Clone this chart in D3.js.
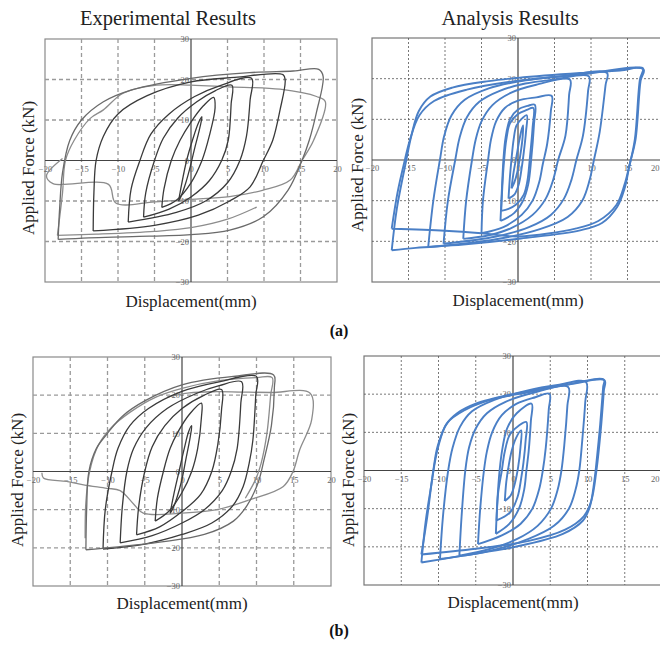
<!DOCTYPE html>
<html>
<head>
<meta charset="utf-8">
<script src="https://cdnjs.cloudflare.com/ajax/libs/d3/7.8.5/d3.min.js"></script>
<style>
  body { margin: 0; background: #fff; }
  svg { display: block; }
</style>
</head>
<body>
<div class="chart"></div>
<script>
// axis ticks and labels
var xTicks = [-20, -15, -10, -5, 0, 5, 10, 15, 20];
var yTicks = [-30, -20, -10, 0, 10, 20, 30];
var columnTitles = ["Experimental Results", "Analysis Results"];
var partLabels = ["(a)", "(b)"];
var xLabel = "Displacement(mm)";
var yLabel = "Applied Force (kN)";

// (a) experimental loops, [displacement mm, force kN]
var expA_dark = [
  [[-1.7,-10],[-1.3,-6],[-0.6,0],[0.2,5],[1.0,9.2],[1.5,10.8],[1.2,8],[0.5,3],[-0.1,-1.5],[-0.8,-6],[-1.4,-9],[-1.7,-10]],
  [[-4,-11.6],[-3.7,-7],[-2.7,0],[-1.5,5],[0,9.5],[1.7,13.5],[3.1,15.6],[3.3,13],[2.5,6],[1.5,0],[0,-5.5],[-2,-9.8],[-4,-11.6]],
  [[-6.5,-14],[-6.2,-8],[-5,0],[-3.8,5.5],[-1.8,10.5],[0.8,14.5],[3.3,17.2],[5.6,18.6],[5.5,14],[5.1,5],[4.2,0],[2.5,-5],[0,-9],[-3,-12],[-6.5,-14]],
  [[-8.6,-15.2],[-8.2,-7],[-7,0],[-5.5,6.5],[-3,11.5],[0.5,15.8],[4,18.5],[8.3,20.3],[8.1,15],[7.6,6],[6.7,0],[5,-5.5],[2,-10],[-2,-12.8],[-8.6,-15.2]],
  [[-13.4,-17.4],[-13.3,-8],[-13,0],[-12,6],[-10,11.5],[-6,16],[0,19.4],[6,20.5],[12.6,21.2],[12.9,19.8],[12.2,12.5],[11.2,5],[9.9,0],[8.1,-6.5],[5.3,-10],[1,-13.5],[-5,-16],[-13.4,-17.4]],
  [[-18.2,-19.5],[-18,-12],[-17.6,-3],[-16.6,5],[-15,10],[-12,14.5],[-8,17.5],[0,20.3],[8,21.7],[14,22.1],[17.5,22.5],[18.1,20.8],[17.2,12],[16.2,5],[15.2,0],[13.3,-7.3],[9.9,-13.9],[5.3,-17.2],[0,-18.3],[-8,-18.8],[-14,-19.1],[-18.2,-19.5]]
];
var expA_gray = [
  [[-17.6,0.5],[-19.8,-3.8],[-18.9,-5.7],[-11.3,-5.9],[-10.3,-10.5],[-5,-10.2],[0,-9.6],[5.3,-8.9],[9.9,-7.3],[13.6,-4.8],[15.2,0],[16.8,5],[18.4,14.5],[17.2,15.8],[12.2,17.6],[5,18.2],[0,18.6],[-4.7,18.6],[-9.3,16.6],[-12,12.5],[-13.8,10.4],[-16,5],[-17.2,0],[-17.6,-8],[-18.3,-18.5]],
  [[-18.3,-18.5],[-13,-18.2],[-5,-17.5],[0,-16.6],[5,-14.5],[9,-11.5]]
];

// (a) analysis loops
var anaA = [
  [[-0.9,-7],[-0.6,-3],[-0.2,1],[0.2,5],[0.5,7.5],[0.7,8.5],[0.6,5],[0.3,1],[-0.1,-3],[-0.5,-5.5],[-0.9,-7]],
  [[-1.3,-9.5],[-1.1,-4],[-0.9,0],[-0.6,5],[-0.2,8.5],[0.6,10.3],[1.2,11],[1.1,7],[0.8,2],[0.5,-2],[0.1,-6],[-0.5,-8.5],[-1.3,-9.5]],
  [[-2.3,-12.5],[-2.1,-5],[-1.9,0],[-1.6,5],[-1.1,9],[0,11.3],[1.2,12.3],[2.1,12.8],[2,8],[1.6,0],[1.3,-5],[0.8,-8.5],[-0.3,-11],[-1.3,-12],[-2.3,-12.5]],
  [[-2.4,-15],[-2.2,-7],[-2,0],[-1.7,5.5],[-1.1,10],[0,12.4],[1.3,13.3],[2.3,13.6],[2.2,9],[1.8,0],[1.4,-6],[0.7,-10],[-0.5,-13],[-2.4,-15]],
  [[-5,-18],[-4.8,-10],[-4.1,0],[-3.7,5],[-3,9.5],[-1.8,12.8],[0,14.6],[2.5,15.4],[4.6,15.8],[4.5,12],[4,4],[3.4,-1],[2.9,-5.5],[2,-10],[0.5,-13.5],[-2,-16.5],[-5,-18]],
  [[-7.5,-19.4],[-7.1,-10],[-6.3,0],[-5.8,5],[-5,9.5],[-3.5,13.5],[-1,16.5],[2.5,18.5],[7.1,19.8],[7,16],[6.5,6],[5.5,0],[4.8,-5],[3.8,-9.5],[2,-13.5],[-1,-16.8],[-4,-18.5],[-7.5,-19.4]],
  [[-10.2,-20.6],[-9.6,-10],[-8.6,0],[-8,5.5],[-7,10.5],[-5.3,14.3],[-2.5,17],[1,18.8],[5,19.8],[9.7,20.6],[9.6,17],[8.9,6],[8,0],[7.3,-5],[6.3,-9.5],[4.5,-13.5],[1.5,-16.5],[-3,-18.8],[-10.2,-20.6]],
  [[-12.3,-21.4],[-11.6,-10],[-10.7,0],[-10.1,6],[-9.1,11],[-7.3,14.8],[-4,17.6],[0,19.3],[6,20.6],[12.2,21.4],[12,18.5],[11.2,7],[10.4,0],[9.8,-5],[8.8,-10],[6.8,-14],[3,-17],[-3,-19.5],[-12.3,-21.4]],
  [[-17.3,-22.2],[-16.6,-12],[-15.3,0],[-14.6,6],[-13.6,12],[-12,15.6],[-9,17.8],[-4,19.4],[0,20.2],[8.5,21.4],[14,22],[17.1,22.6],[16.7,19.8],[16,5],[15.2,-2],[14.6,-7],[13.6,-11.5],[11.5,-15.5],[8.5,-17.3],[0.4,-19.3],[-7.5,-20.8],[-14,-21.6],[-17.3,-22.2]],
  [[-17.3,-16.9],[-16.5,-8],[-15.5,0],[-14.8,5],[-13.5,11],[-11.5,14.5],[-7,17.3],[0,19.5],[8.5,21],[17.2,22.3],[16.8,19.5],[16.1,5],[15.3,-1],[14.6,-6],[13.5,-11],[11,-15],[8,-16.8],[0,-18.8],[-5,-18],[-10,-17.4],[-17.3,-16.9]]
];

// (b) experimental loops
var expB_dark = [
  [[-1.6,-11],[-1.1,-6],[-0.4,0],[0.3,6],[0.9,10.5],[1.3,12],[1.1,9],[0.5,3],[0,-2],[-0.7,-7],[-1.3,-10],[-1.6,-11]],
  [[-3.6,-13],[-3.3,-7],[-2.5,0],[-1.6,6],[-0.5,10.5],[1,15],[2.6,17.9],[2.6,14],[2.1,6],[1.3,0],[0,-5.5],[-1.8,-10.5],[-3.6,-13]],
  [[-6.1,-16.6],[-5.8,-9],[-5,0],[-4,6.5],[-2.3,12],[0,16.5],[2.8,19.8],[5.3,21.5],[5.3,16],[4.8,7],[4,0],[2.5,-6],[0,-10.5],[-3,-14.5],[-6.1,-16.6]],
  [[-8.3,-18.7],[-8,-9],[-7.4,0],[-6.5,6],[-4.8,11.5],[-2,16.5],[2,20.5],[5,22.5],[8,23.5],[7.9,18],[7.4,6],[6.6,0],[5.4,-5],[3,-10],[0,-13.5],[-4,-16.8],[-8.3,-18.7]],
  [[-10.6,-20.3],[-10.3,-10],[-9.4,0],[-8.6,6],[-7,12],[-4.5,16.5],[0,21],[5,23.5],[10,24.9],[9.9,20],[9.5,8],[9,2],[8.2,-4],[6.8,-9],[4,-13.5],[0,-16.5],[-5,-19],[-10.6,-20.3]],
  [[-12.9,-20.5],[-12.8,-10],[-12.5,0],[-11.5,6],[-10,10],[-8,14.5],[-5,18.5],[0,22.7],[6.9,24.9],[12.3,25.3],[12.4,22],[12,12],[11,3],[10.2,-3],[8.7,-9],[6.9,-13],[3,-16.5],[-3,-18.5],[-9,-19.8],[-12.9,-20.5]]
];
var expB_gray = [
  [[-13,-17.5],[-12.9,-8],[-12.4,0],[-11.2,7],[-9.5,11.5],[-7,15.5],[-3.5,19.5],[0,21.8],[5,23.8],[10,24.6],[12.1,24.6],[11.9,20],[11.4,10],[10.6,2],[9.9,-2],[8.5,-7]],
  [[-18.8,-0.3],[-18.6,-1.7],[-15.5,-2.6],[-13.2,-3.5],[-10.1,-4.4],[-8.3,-5],[-6.5,-8.5],[-5.2,-10.9],[0,-10.9],[4.7,-10],[9.1,-7.4],[13.6,-3.9],[14.9,0],[15.8,5.7],[17.4,13.5],[17.2,20.5],[12,20.7],[8,20.8],[4.2,20.9],[1,20.6],[-2,19.5]]
];

// (b) analysis loops
var anaB = [
  [[-1.1,-8],[-0.9,-3],[-0.6,1],[-0.2,5],[0.4,8.5],[1.1,10.5],[1,6],[0.7,1],[0.3,-3],[-0.3,-6.5],[-1.1,-8]],
  [[-2.2,-13.1],[-2,-6],[-1.5,0],[-1.1,5],[-0.4,9.5],[0.8,11.8],[1.8,12.7],[1.7,8],[1.4,2],[1.1,-2],[0.6,-7],[-0.4,-11],[-2.2,-13.1]],
  [[-2.3,-16.6],[-2.1,-8],[-1.8,0],[-1.4,6],[-0.8,11],[0.5,15],[2.5,17.5],[2.4,13],[2.1,5],[1.8,0],[1.5,-5],[0.8,-10],[-0.5,-14],[-2.3,-16.6]],
  [[-4.7,-19.3],[-4.4,-10],[-3.9,0],[-3.5,5],[-2.8,10],[-1.5,14.5],[0.5,17.5],[3,19.2],[4.9,20.1],[4.8,16],[4.4,6],[4,0],[3.5,-5],[2.6,-10],[1,-14],[-1.5,-17],[-4.7,-19.3]],
  [[-7.2,-22.3],[-6.9,-12],[-6.4,0],[-5.9,6],[-5,11],[-3.5,15],[-1,18],[3,20.5],[7.4,21.9],[7.3,17],[6.9,7],[6.5,0],[6,-5],[5.1,-10],[3.3,-14.5],[0.5,-18],[-3,-20.5],[-7.2,-22.3]],
  [[-9.8,-23.2],[-9.4,-12],[-8.7,0],[-8.1,6],[-7.1,11.5],[-5.5,15.5],[-2.5,18.5],[2,21],[6,22.4],[9.8,23.2],[9.7,18],[9.3,8],[8.9,0],[8.4,-5],[7.5,-10],[5.5,-14.5],[2,-18],[-3,-21],[-9.8,-23.2]],
  [[-12.3,-24.1],[-11.7,-13],[-10.9,-3],[-10.5,2],[-10,6.5],[-9,12],[-7.5,15],[-5,17.5],[0,20],[6.7,22.3],[12.2,23.8],[12.1,21.9],[11.7,12],[11.3,4],[10.9,-3],[10.3,-9.6],[9.4,-13.1],[6.7,-16.6],[0,-20.1],[-6.7,-22.3],[-12.3,-24.1]],
  [[-12.3,-22],[-11.5,-12],[-10.7,0],[-10.1,6.5],[-8.8,12.5],[-6.5,15.8],[-3,18.5],[2,20.5],[8,22.7],[12.3,23.6],[12.2,21],[11.8,11],[11.2,0],[10.5,-8],[9.5,-12],[7,-15.5],[2,-18.5],[-5,-20.5],[-12.3,-22]]
];

var svgWidth = 660;
var svgHeight = 645;

var svg = d3.select(".chart").append("svg")
  .attr("width", svgWidth)
  .attr("height", svgHeight)
  .style("font-family", "'Liberation Serif', 'Times New Roman', serif");

// panel placement on the page
var panels = [
  {left: 45, right: 337, top: 39, bottom: 282, kind: "exp", dark: expA_dark, gray: expA_gray,
   yLabelX: 34, yLabelY: 168, xLabelY: 307},
  {left: 372, right: 664, top: 38, bottom: 282, kind: "ana", blue: anaA,
   yLabelX: 363, yLabelY: 165, xLabelY: 306},
  {left: 33, right: 331, top: 357, bottom: 586, kind: "exp", dark: expB_dark, gray: expB_gray,
   yLabelX: 23, yLabelY: 480, xLabelY: 609},
  {left: 364, right: 662, top: 356, bottom: 585, kind: "ana", blue: anaB,
   yLabelX: 354, yLabelY: 480, xLabelY: 608}
];

panels.forEach(function(p) {
  var x = d3.scaleLinear().domain([-20, 20]).range([p.left, p.right]);
  var y = d3.scaleLinear().domain([-30, 30]).range([p.bottom, p.top]);
  var g = svg.append("g");
  var isExp = p.kind === "exp";

  // frame
  g.append("rect")
    .attr("x", x(-20)).attr("y", y(30))
    .attr("width", x(20) - x(-20)).attr("height", y(-30) - y(30))
    .attr("fill", "none")
    .attr("stroke", isExp ? "#8a8a8a" : "#777")
    .attr("stroke-width", 1.2);

  // grid
  var gridStroke = isExp ? "#9a9a9a" : "#555";
  var gridDash = isExp ? "4,3" : "2,2";
  var gridWidth = isExp ? 1.3 : 0.8;
  g.selectAll(".vgrid")
    .data(xTicks.filter(d => d !== 0 && Math.abs(d) !== 20))
    .enter().append("line")
    .attr("x1", d => x(d)).attr("x2", d => x(d))
    .attr("y1", y(30)).attr("y2", y(-30))
    .attr("stroke", gridStroke).attr("stroke-width", gridWidth)
    .attr("stroke-dasharray", gridDash);
  g.selectAll(".hgrid")
    .data(yTicks.filter(d => d !== 0 && Math.abs(d) !== 30))
    .enter().append("line")
    .attr("x1", x(-20)).attr("x2", x(20))
    .attr("y1", d => y(d)).attr("y2", d => y(d))
    .attr("stroke", gridStroke).attr("stroke-width", gridWidth)
    .attr("stroke-dasharray", gridDash);

  // zero axes
  g.append("line")
    .attr("x1", x(-20)).attr("x2", x(20)).attr("y1", y(0)).attr("y2", y(0))
    .attr("stroke", "#444").attr("stroke-width", 1.2);
  g.append("line")
    .attr("x1", x(0)).attr("x2", x(0)).attr("y1", y(30)).attr("y2", y(-30))
    .attr("stroke", "#444").attr("stroke-width", 1.2);

  // tick labels through d3 axes, sitting on the zero lines
  var bottomAxis = d3.axisBottom(x).tickValues(xTicks).tickSize(0).tickPadding(5);
  var leftAxis = d3.axisLeft(y).tickValues(yTicks).tickSize(0).tickPadding(2);
  var ax = g.append("g").attr("transform", `translate(0, ${y(0)})`).call(bottomAxis);
  var ay = g.append("g").attr("transform", `translate(${x(0)}, 0)`).call(leftAxis);
  [ax, ay].forEach(function(a) {
    a.select(".domain").remove();
    a.selectAll("text")
      .style("font-family", "'Liberation Serif', serif")
      .style("font-size", "8.5px")
      .attr("fill", "#666");
  });
  // last x label would fall off the page on the right-hand panels
  if (x(20) > svgWidth - 8) {
    ax.selectAll(".tick").filter(d => d === 20).select("text")
      .attr("text-anchor", "end")
      .attr("dx", svgWidth - 1 - x(20));
  }

  // hysteresis loops
  var line = d3.line()
    .x(d => x(d[0]))
    .y(d => y(d[1]))
    .curve(d3.curveCatmullRom.alpha(0.5));

  if (isExp) {
    g.selectAll(".grayLoop")
      .data(p.gray).enter().append("path")
      .attr("d", line)
      .attr("fill", "none")
      .attr("stroke", "#8c8c8c")
      .attr("stroke-width", 1.3);
    g.selectAll(".darkLoop")
      .data(p.dark).enter().append("path")
      .attr("d", line)
      .attr("fill", "none")
      .attr("stroke", (d, i) => i === p.dark.length - 1 ? "#6a6a6a" : "#3a3a3a")
      .attr("stroke-width", 1.3);
  } else {
    g.selectAll(".blueLoop")
      .data(p.blue).enter().append("path")
      .attr("d", line)
      .attr("fill", "none")
      .attr("stroke", "#4a7fc6")
      .attr("stroke-width", 1.9)
      .attr("stroke-linejoin", "round");
  }

  // axis titles
  svg.append("text")
    .attr("transform", `translate(${p.yLabelX}, ${p.yLabelY}) rotate(-90)`)
    .attr("text-anchor", "middle")
    .style("font-size", "17px")
    .attr("fill", "#222")
    .text(yLabel);
  svg.append("text")
    .attr("x", x(0))
    .attr("y", p.xLabelY)
    .attr("text-anchor", "middle")
    .style("font-size", "17px")
    .attr("fill", "#222")
    .text(xLabel);
});

// column titles
svg.selectAll(".colTitle")
  .data(columnTitles).enter().append("text")
  .attr("x", (d, i) => i === 0 ? 168 : 510)
  .attr("y", 25)
  .attr("text-anchor", "middle")
  .style("font-size", "20.5px")
  .attr("fill", "#222")
  .text(d => d);

// sub-figure labels
svg.selectAll(".partLabel")
  .data(partLabels).enter().append("text")
  .attr("x", 339)
  .attr("y", (d, i) => i === 0 ? 336 : 636)
  .attr("text-anchor", "middle")
  .style("font-size", "16px")
  .style("font-weight", "bold")
  .attr("fill", "#111")
  .text(d => d);
</script>
</body>
</html>
